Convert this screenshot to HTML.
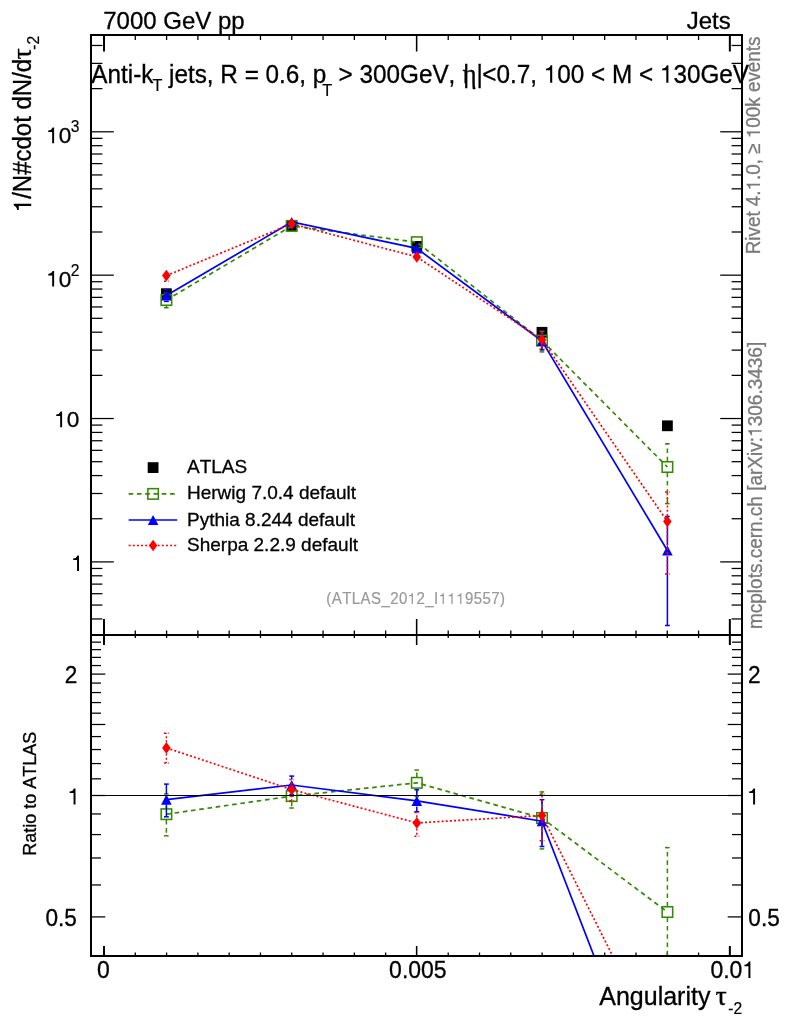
<!DOCTYPE html>
<html><head><meta charset="utf-8"><title>plot</title>
<style>
html,body{margin:0;padding:0;background:#fff;}
svg{display:block;will-change:transform;}
text{font-family:"Liberation Sans",sans-serif;font-kerning:none;}
</style></head>
<body>
<svg width="786" height="1024" viewBox="0 0 786 1024">
<defs>
<clipPath id="cu"><rect x="91.0" y="35.0" width="651.0" height="600.0"/></clipPath>
<clipPath id="cr"><rect x="91.0" y="635.0" width="651.0" height="321.0"/></clipPath>
</defs>
<rect width="786" height="1024" fill="#fff"/>
<line x1="91.00" y1="618.95" x2="102.40" y2="618.95" stroke="#000" stroke-width="1.25" />
<line x1="742.00" y1="618.95" x2="731.60" y2="618.95" stroke="#000" stroke-width="1.25" />
<line x1="91.00" y1="605.06" x2="102.40" y2="605.06" stroke="#000" stroke-width="1.25" />
<line x1="742.00" y1="605.06" x2="731.60" y2="605.06" stroke="#000" stroke-width="1.25" />
<line x1="91.00" y1="593.71" x2="102.40" y2="593.71" stroke="#000" stroke-width="1.25" />
<line x1="742.00" y1="593.71" x2="731.60" y2="593.71" stroke="#000" stroke-width="1.25" />
<line x1="91.00" y1="584.11" x2="102.40" y2="584.11" stroke="#000" stroke-width="1.25" />
<line x1="742.00" y1="584.11" x2="731.60" y2="584.11" stroke="#000" stroke-width="1.25" />
<line x1="91.00" y1="575.79" x2="102.40" y2="575.79" stroke="#000" stroke-width="1.25" />
<line x1="742.00" y1="575.79" x2="731.60" y2="575.79" stroke="#000" stroke-width="1.25" />
<line x1="91.00" y1="568.46" x2="102.40" y2="568.46" stroke="#000" stroke-width="1.25" />
<line x1="742.00" y1="568.46" x2="731.60" y2="568.46" stroke="#000" stroke-width="1.25" />
<line x1="91.00" y1="561.90" x2="113.80" y2="561.90" stroke="#000" stroke-width="1.25" />
<line x1="742.00" y1="561.90" x2="720.20" y2="561.90" stroke="#000" stroke-width="1.25" />
<line x1="91.00" y1="518.74" x2="102.40" y2="518.74" stroke="#000" stroke-width="1.25" />
<line x1="742.00" y1="518.74" x2="731.60" y2="518.74" stroke="#000" stroke-width="1.25" />
<line x1="91.00" y1="493.50" x2="102.40" y2="493.50" stroke="#000" stroke-width="1.25" />
<line x1="742.00" y1="493.50" x2="731.60" y2="493.50" stroke="#000" stroke-width="1.25" />
<line x1="91.00" y1="475.58" x2="102.40" y2="475.58" stroke="#000" stroke-width="1.25" />
<line x1="742.00" y1="475.58" x2="731.60" y2="475.58" stroke="#000" stroke-width="1.25" />
<line x1="91.00" y1="461.69" x2="102.40" y2="461.69" stroke="#000" stroke-width="1.25" />
<line x1="742.00" y1="461.69" x2="731.60" y2="461.69" stroke="#000" stroke-width="1.25" />
<line x1="91.00" y1="450.34" x2="102.40" y2="450.34" stroke="#000" stroke-width="1.25" />
<line x1="742.00" y1="450.34" x2="731.60" y2="450.34" stroke="#000" stroke-width="1.25" />
<line x1="91.00" y1="440.74" x2="102.40" y2="440.74" stroke="#000" stroke-width="1.25" />
<line x1="742.00" y1="440.74" x2="731.60" y2="440.74" stroke="#000" stroke-width="1.25" />
<line x1="91.00" y1="432.42" x2="102.40" y2="432.42" stroke="#000" stroke-width="1.25" />
<line x1="742.00" y1="432.42" x2="731.60" y2="432.42" stroke="#000" stroke-width="1.25" />
<line x1="91.00" y1="425.09" x2="102.40" y2="425.09" stroke="#000" stroke-width="1.25" />
<line x1="742.00" y1="425.09" x2="731.60" y2="425.09" stroke="#000" stroke-width="1.25" />
<line x1="91.00" y1="418.53" x2="113.80" y2="418.53" stroke="#000" stroke-width="1.25" />
<line x1="742.00" y1="418.53" x2="720.20" y2="418.53" stroke="#000" stroke-width="1.25" />
<line x1="91.00" y1="375.37" x2="102.40" y2="375.37" stroke="#000" stroke-width="1.25" />
<line x1="742.00" y1="375.37" x2="731.60" y2="375.37" stroke="#000" stroke-width="1.25" />
<line x1="91.00" y1="350.13" x2="102.40" y2="350.13" stroke="#000" stroke-width="1.25" />
<line x1="742.00" y1="350.13" x2="731.60" y2="350.13" stroke="#000" stroke-width="1.25" />
<line x1="91.00" y1="332.21" x2="102.40" y2="332.21" stroke="#000" stroke-width="1.25" />
<line x1="742.00" y1="332.21" x2="731.60" y2="332.21" stroke="#000" stroke-width="1.25" />
<line x1="91.00" y1="318.32" x2="102.40" y2="318.32" stroke="#000" stroke-width="1.25" />
<line x1="742.00" y1="318.32" x2="731.60" y2="318.32" stroke="#000" stroke-width="1.25" />
<line x1="91.00" y1="306.97" x2="102.40" y2="306.97" stroke="#000" stroke-width="1.25" />
<line x1="742.00" y1="306.97" x2="731.60" y2="306.97" stroke="#000" stroke-width="1.25" />
<line x1="91.00" y1="297.37" x2="102.40" y2="297.37" stroke="#000" stroke-width="1.25" />
<line x1="742.00" y1="297.37" x2="731.60" y2="297.37" stroke="#000" stroke-width="1.25" />
<line x1="91.00" y1="289.05" x2="102.40" y2="289.05" stroke="#000" stroke-width="1.25" />
<line x1="742.00" y1="289.05" x2="731.60" y2="289.05" stroke="#000" stroke-width="1.25" />
<line x1="91.00" y1="281.72" x2="102.40" y2="281.72" stroke="#000" stroke-width="1.25" />
<line x1="742.00" y1="281.72" x2="731.60" y2="281.72" stroke="#000" stroke-width="1.25" />
<line x1="91.00" y1="275.16" x2="113.80" y2="275.16" stroke="#000" stroke-width="1.25" />
<line x1="742.00" y1="275.16" x2="720.20" y2="275.16" stroke="#000" stroke-width="1.25" />
<line x1="91.00" y1="232.00" x2="102.40" y2="232.00" stroke="#000" stroke-width="1.25" />
<line x1="742.00" y1="232.00" x2="731.60" y2="232.00" stroke="#000" stroke-width="1.25" />
<line x1="91.00" y1="206.76" x2="102.40" y2="206.76" stroke="#000" stroke-width="1.25" />
<line x1="742.00" y1="206.76" x2="731.60" y2="206.76" stroke="#000" stroke-width="1.25" />
<line x1="91.00" y1="188.84" x2="102.40" y2="188.84" stroke="#000" stroke-width="1.25" />
<line x1="742.00" y1="188.84" x2="731.60" y2="188.84" stroke="#000" stroke-width="1.25" />
<line x1="91.00" y1="174.95" x2="102.40" y2="174.95" stroke="#000" stroke-width="1.25" />
<line x1="742.00" y1="174.95" x2="731.60" y2="174.95" stroke="#000" stroke-width="1.25" />
<line x1="91.00" y1="163.60" x2="102.40" y2="163.60" stroke="#000" stroke-width="1.25" />
<line x1="742.00" y1="163.60" x2="731.60" y2="163.60" stroke="#000" stroke-width="1.25" />
<line x1="91.00" y1="154.00" x2="102.40" y2="154.00" stroke="#000" stroke-width="1.25" />
<line x1="742.00" y1="154.00" x2="731.60" y2="154.00" stroke="#000" stroke-width="1.25" />
<line x1="91.00" y1="145.68" x2="102.40" y2="145.68" stroke="#000" stroke-width="1.25" />
<line x1="742.00" y1="145.68" x2="731.60" y2="145.68" stroke="#000" stroke-width="1.25" />
<line x1="91.00" y1="138.35" x2="102.40" y2="138.35" stroke="#000" stroke-width="1.25" />
<line x1="742.00" y1="138.35" x2="731.60" y2="138.35" stroke="#000" stroke-width="1.25" />
<line x1="91.00" y1="131.79" x2="113.80" y2="131.79" stroke="#000" stroke-width="1.25" />
<line x1="742.00" y1="131.79" x2="720.20" y2="131.79" stroke="#000" stroke-width="1.25" />
<line x1="91.00" y1="88.63" x2="102.40" y2="88.63" stroke="#000" stroke-width="1.25" />
<line x1="742.00" y1="88.63" x2="731.60" y2="88.63" stroke="#000" stroke-width="1.25" />
<line x1="91.00" y1="63.39" x2="102.40" y2="63.39" stroke="#000" stroke-width="1.25" />
<line x1="742.00" y1="63.39" x2="731.60" y2="63.39" stroke="#000" stroke-width="1.25" />
<line x1="91.00" y1="45.47" x2="102.40" y2="45.47" stroke="#000" stroke-width="1.25" />
<line x1="742.00" y1="45.47" x2="731.60" y2="45.47" stroke="#000" stroke-width="1.25" />
<line x1="91.00" y1="916.91" x2="105.30" y2="916.91" stroke="#000" stroke-width="1.25" />
<line x1="742.00" y1="916.91" x2="727.70" y2="916.91" stroke="#000" stroke-width="1.25" />
<line x1="91.00" y1="884.97" x2="101.00" y2="884.97" stroke="#000" stroke-width="1.25" />
<line x1="742.00" y1="884.97" x2="732.00" y2="884.97" stroke="#000" stroke-width="1.25" />
<line x1="91.00" y1="857.97" x2="101.00" y2="857.97" stroke="#000" stroke-width="1.25" />
<line x1="742.00" y1="857.97" x2="732.00" y2="857.97" stroke="#000" stroke-width="1.25" />
<line x1="91.00" y1="834.58" x2="101.00" y2="834.58" stroke="#000" stroke-width="1.25" />
<line x1="742.00" y1="834.58" x2="732.00" y2="834.58" stroke="#000" stroke-width="1.25" />
<line x1="91.00" y1="813.95" x2="101.00" y2="813.95" stroke="#000" stroke-width="1.25" />
<line x1="742.00" y1="813.95" x2="732.00" y2="813.95" stroke="#000" stroke-width="1.25" />
<line x1="91.00" y1="795.50" x2="105.30" y2="795.50" stroke="#000" stroke-width="1.25" />
<line x1="742.00" y1="795.50" x2="727.70" y2="795.50" stroke="#000" stroke-width="1.25" />
<line x1="91.00" y1="778.81" x2="101.00" y2="778.81" stroke="#000" stroke-width="1.25" />
<line x1="742.00" y1="778.81" x2="732.00" y2="778.81" stroke="#000" stroke-width="1.25" />
<line x1="91.00" y1="763.57" x2="101.00" y2="763.57" stroke="#000" stroke-width="1.25" />
<line x1="742.00" y1="763.57" x2="732.00" y2="763.57" stroke="#000" stroke-width="1.25" />
<line x1="91.00" y1="749.55" x2="101.00" y2="749.55" stroke="#000" stroke-width="1.25" />
<line x1="742.00" y1="749.55" x2="732.00" y2="749.55" stroke="#000" stroke-width="1.25" />
<line x1="91.00" y1="736.57" x2="101.00" y2="736.57" stroke="#000" stroke-width="1.25" />
<line x1="742.00" y1="736.57" x2="732.00" y2="736.57" stroke="#000" stroke-width="1.25" />
<line x1="91.00" y1="724.48" x2="105.30" y2="724.48" stroke="#000" stroke-width="1.25" />
<line x1="742.00" y1="724.48" x2="727.70" y2="724.48" stroke="#000" stroke-width="1.25" />
<line x1="91.00" y1="713.18" x2="101.00" y2="713.18" stroke="#000" stroke-width="1.25" />
<line x1="742.00" y1="713.18" x2="732.00" y2="713.18" stroke="#000" stroke-width="1.25" />
<line x1="91.00" y1="702.56" x2="101.00" y2="702.56" stroke="#000" stroke-width="1.25" />
<line x1="742.00" y1="702.56" x2="732.00" y2="702.56" stroke="#000" stroke-width="1.25" />
<line x1="91.00" y1="692.55" x2="101.00" y2="692.55" stroke="#000" stroke-width="1.25" />
<line x1="742.00" y1="692.55" x2="732.00" y2="692.55" stroke="#000" stroke-width="1.25" />
<line x1="91.00" y1="683.08" x2="101.00" y2="683.08" stroke="#000" stroke-width="1.25" />
<line x1="742.00" y1="683.08" x2="732.00" y2="683.08" stroke="#000" stroke-width="1.25" />
<line x1="91.00" y1="674.09" x2="105.30" y2="674.09" stroke="#000" stroke-width="1.25" />
<line x1="742.00" y1="674.09" x2="727.70" y2="674.09" stroke="#000" stroke-width="1.25" />
<line x1="91.00" y1="665.55" x2="101.00" y2="665.55" stroke="#000" stroke-width="1.25" />
<line x1="742.00" y1="665.55" x2="732.00" y2="665.55" stroke="#000" stroke-width="1.25" />
<line x1="91.00" y1="657.40" x2="101.00" y2="657.40" stroke="#000" stroke-width="1.25" />
<line x1="742.00" y1="657.40" x2="732.00" y2="657.40" stroke="#000" stroke-width="1.25" />
<line x1="91.00" y1="649.62" x2="101.00" y2="649.62" stroke="#000" stroke-width="1.25" />
<line x1="742.00" y1="649.62" x2="732.00" y2="649.62" stroke="#000" stroke-width="1.25" />
<line x1="91.00" y1="642.16" x2="101.00" y2="642.16" stroke="#000" stroke-width="1.25" />
<line x1="742.00" y1="642.16" x2="732.00" y2="642.16" stroke="#000" stroke-width="1.25" />
<line x1="104.00" y1="35.00" x2="104.00" y2="51.50" stroke="#000" stroke-width="2.0" />
<line x1="104.00" y1="635.00" x2="104.00" y2="619.00" stroke="#000" stroke-width="2.0" />
<line x1="104.00" y1="635.00" x2="104.00" y2="645.00" stroke="#000" stroke-width="2.0" />
<line x1="104.00" y1="956.00" x2="104.00" y2="946.00" stroke="#000" stroke-width="2.0" />
<line x1="135.29" y1="35.00" x2="135.29" y2="40.00" stroke="#000" stroke-width="1.3" />
<line x1="135.29" y1="635.00" x2="135.29" y2="630.50" stroke="#000" stroke-width="1.3" />
<line x1="135.29" y1="635.00" x2="135.29" y2="638.00" stroke="#000" stroke-width="1.3" />
<line x1="135.29" y1="956.00" x2="135.29" y2="952.50" stroke="#000" stroke-width="1.3" />
<line x1="166.59" y1="35.00" x2="166.59" y2="40.00" stroke="#000" stroke-width="1.3" />
<line x1="166.59" y1="635.00" x2="166.59" y2="630.50" stroke="#000" stroke-width="1.3" />
<line x1="166.59" y1="635.00" x2="166.59" y2="638.00" stroke="#000" stroke-width="1.3" />
<line x1="166.59" y1="956.00" x2="166.59" y2="952.50" stroke="#000" stroke-width="1.3" />
<line x1="197.88" y1="35.00" x2="197.88" y2="40.00" stroke="#000" stroke-width="1.3" />
<line x1="197.88" y1="635.00" x2="197.88" y2="630.50" stroke="#000" stroke-width="1.3" />
<line x1="197.88" y1="635.00" x2="197.88" y2="638.00" stroke="#000" stroke-width="1.3" />
<line x1="197.88" y1="956.00" x2="197.88" y2="952.50" stroke="#000" stroke-width="1.3" />
<line x1="229.17" y1="35.00" x2="229.17" y2="40.00" stroke="#000" stroke-width="1.3" />
<line x1="229.17" y1="635.00" x2="229.17" y2="630.50" stroke="#000" stroke-width="1.3" />
<line x1="229.17" y1="635.00" x2="229.17" y2="638.00" stroke="#000" stroke-width="1.3" />
<line x1="229.17" y1="956.00" x2="229.17" y2="952.50" stroke="#000" stroke-width="1.3" />
<line x1="260.46" y1="35.00" x2="260.46" y2="40.00" stroke="#000" stroke-width="1.3" />
<line x1="260.46" y1="635.00" x2="260.46" y2="630.50" stroke="#000" stroke-width="1.3" />
<line x1="260.46" y1="635.00" x2="260.46" y2="638.00" stroke="#000" stroke-width="1.3" />
<line x1="260.46" y1="956.00" x2="260.46" y2="952.50" stroke="#000" stroke-width="1.3" />
<line x1="291.75" y1="35.00" x2="291.75" y2="40.00" stroke="#000" stroke-width="1.3" />
<line x1="291.75" y1="635.00" x2="291.75" y2="630.50" stroke="#000" stroke-width="1.3" />
<line x1="291.75" y1="635.00" x2="291.75" y2="638.00" stroke="#000" stroke-width="1.3" />
<line x1="291.75" y1="956.00" x2="291.75" y2="952.50" stroke="#000" stroke-width="1.3" />
<line x1="323.05" y1="35.00" x2="323.05" y2="40.00" stroke="#000" stroke-width="1.3" />
<line x1="323.05" y1="635.00" x2="323.05" y2="630.50" stroke="#000" stroke-width="1.3" />
<line x1="323.05" y1="635.00" x2="323.05" y2="638.00" stroke="#000" stroke-width="1.3" />
<line x1="323.05" y1="956.00" x2="323.05" y2="952.50" stroke="#000" stroke-width="1.3" />
<line x1="354.34" y1="35.00" x2="354.34" y2="40.00" stroke="#000" stroke-width="1.3" />
<line x1="354.34" y1="635.00" x2="354.34" y2="630.50" stroke="#000" stroke-width="1.3" />
<line x1="354.34" y1="635.00" x2="354.34" y2="638.00" stroke="#000" stroke-width="1.3" />
<line x1="354.34" y1="956.00" x2="354.34" y2="952.50" stroke="#000" stroke-width="1.3" />
<line x1="385.63" y1="35.00" x2="385.63" y2="40.00" stroke="#000" stroke-width="1.3" />
<line x1="385.63" y1="635.00" x2="385.63" y2="630.50" stroke="#000" stroke-width="1.3" />
<line x1="385.63" y1="635.00" x2="385.63" y2="638.00" stroke="#000" stroke-width="1.3" />
<line x1="385.63" y1="956.00" x2="385.63" y2="952.50" stroke="#000" stroke-width="1.3" />
<line x1="416.65" y1="35.00" x2="416.65" y2="51.50" stroke="#000" stroke-width="1.55" />
<line x1="416.65" y1="635.00" x2="416.65" y2="619.00" stroke="#000" stroke-width="1.55" />
<line x1="416.65" y1="635.00" x2="416.65" y2="645.00" stroke="#000" stroke-width="1.55" />
<line x1="416.65" y1="956.00" x2="416.65" y2="946.00" stroke="#000" stroke-width="1.55" />
<line x1="448.22" y1="35.00" x2="448.22" y2="40.00" stroke="#000" stroke-width="1.3" />
<line x1="448.22" y1="635.00" x2="448.22" y2="630.50" stroke="#000" stroke-width="1.3" />
<line x1="448.22" y1="635.00" x2="448.22" y2="638.00" stroke="#000" stroke-width="1.3" />
<line x1="448.22" y1="956.00" x2="448.22" y2="952.50" stroke="#000" stroke-width="1.3" />
<line x1="479.51" y1="35.00" x2="479.51" y2="40.00" stroke="#000" stroke-width="1.3" />
<line x1="479.51" y1="635.00" x2="479.51" y2="630.50" stroke="#000" stroke-width="1.3" />
<line x1="479.51" y1="635.00" x2="479.51" y2="638.00" stroke="#000" stroke-width="1.3" />
<line x1="479.51" y1="956.00" x2="479.51" y2="952.50" stroke="#000" stroke-width="1.3" />
<line x1="510.80" y1="35.00" x2="510.80" y2="40.00" stroke="#000" stroke-width="1.3" />
<line x1="510.80" y1="635.00" x2="510.80" y2="630.50" stroke="#000" stroke-width="1.3" />
<line x1="510.80" y1="635.00" x2="510.80" y2="638.00" stroke="#000" stroke-width="1.3" />
<line x1="510.80" y1="956.00" x2="510.80" y2="952.50" stroke="#000" stroke-width="1.3" />
<line x1="542.10" y1="35.00" x2="542.10" y2="40.00" stroke="#000" stroke-width="1.3" />
<line x1="542.10" y1="635.00" x2="542.10" y2="630.50" stroke="#000" stroke-width="1.3" />
<line x1="542.10" y1="635.00" x2="542.10" y2="638.00" stroke="#000" stroke-width="1.3" />
<line x1="542.10" y1="956.00" x2="542.10" y2="952.50" stroke="#000" stroke-width="1.3" />
<line x1="573.39" y1="35.00" x2="573.39" y2="40.00" stroke="#000" stroke-width="1.3" />
<line x1="573.39" y1="635.00" x2="573.39" y2="630.50" stroke="#000" stroke-width="1.3" />
<line x1="573.39" y1="635.00" x2="573.39" y2="638.00" stroke="#000" stroke-width="1.3" />
<line x1="573.39" y1="956.00" x2="573.39" y2="952.50" stroke="#000" stroke-width="1.3" />
<line x1="604.68" y1="35.00" x2="604.68" y2="40.00" stroke="#000" stroke-width="1.3" />
<line x1="604.68" y1="635.00" x2="604.68" y2="630.50" stroke="#000" stroke-width="1.3" />
<line x1="604.68" y1="635.00" x2="604.68" y2="638.00" stroke="#000" stroke-width="1.3" />
<line x1="604.68" y1="956.00" x2="604.68" y2="952.50" stroke="#000" stroke-width="1.3" />
<line x1="635.97" y1="35.00" x2="635.97" y2="40.00" stroke="#000" stroke-width="1.3" />
<line x1="635.97" y1="635.00" x2="635.97" y2="630.50" stroke="#000" stroke-width="1.3" />
<line x1="635.97" y1="635.00" x2="635.97" y2="638.00" stroke="#000" stroke-width="1.3" />
<line x1="635.97" y1="956.00" x2="635.97" y2="952.50" stroke="#000" stroke-width="1.3" />
<line x1="667.27" y1="35.00" x2="667.27" y2="40.00" stroke="#000" stroke-width="1.3" />
<line x1="667.27" y1="635.00" x2="667.27" y2="630.50" stroke="#000" stroke-width="1.3" />
<line x1="667.27" y1="635.00" x2="667.27" y2="638.00" stroke="#000" stroke-width="1.3" />
<line x1="667.27" y1="956.00" x2="667.27" y2="952.50" stroke="#000" stroke-width="1.3" />
<line x1="698.56" y1="35.00" x2="698.56" y2="40.00" stroke="#000" stroke-width="1.3" />
<line x1="698.56" y1="635.00" x2="698.56" y2="630.50" stroke="#000" stroke-width="1.3" />
<line x1="698.56" y1="635.00" x2="698.56" y2="638.00" stroke="#000" stroke-width="1.3" />
<line x1="698.56" y1="956.00" x2="698.56" y2="952.50" stroke="#000" stroke-width="1.3" />
<line x1="729.85" y1="35.00" x2="729.85" y2="51.50" stroke="#000" stroke-width="2.0" />
<line x1="729.85" y1="635.00" x2="729.85" y2="619.00" stroke="#000" stroke-width="2.0" />
<line x1="729.85" y1="635.00" x2="729.85" y2="645.00" stroke="#000" stroke-width="2.0" />
<line x1="729.85" y1="956.00" x2="729.85" y2="946.00" stroke="#000" stroke-width="2.0" />
<g clip-path="url(#cu)">
<rect x="161.00" y="288.30" width="10.8" height="10.8" fill="#000"/>
<rect x="286.30" y="220.30" width="10.8" height="10.8" fill="#000"/>
<rect x="411.40" y="241.00" width="10.8" height="10.8" fill="#000"/>
<rect x="536.60" y="326.90" width="10.8" height="10.8" fill="#000"/>
<rect x="662.00" y="420.40" width="10.8" height="10.8" fill="#000"/>
<line x1="166.40" y1="294.40" x2="166.40" y2="293.20" stroke="#338a00" stroke-width="1.5" stroke-dasharray="4.6 3.7"/>
<line x1="164.00" y1="293.20" x2="168.80" y2="293.20" stroke="#338a00" stroke-width="1.5" stroke-dasharray="4.6 3.7"/>
<line x1="166.40" y1="305.60" x2="166.40" y2="307.70" stroke="#338a00" stroke-width="1.5" stroke-dasharray="4.6 3.7"/>
<line x1="164.00" y1="307.70" x2="168.80" y2="307.70" stroke="#338a00" stroke-width="1.5" stroke-dasharray="4.6 3.7"/>
<line x1="542.00" y1="335.00" x2="542.00" y2="331.30" stroke="#338a00" stroke-width="1.5" stroke-dasharray="4.6 3.7"/>
<line x1="539.60" y1="331.30" x2="544.40" y2="331.30" stroke="#338a00" stroke-width="1.5" stroke-dasharray="4.6 3.7"/>
<line x1="542.00" y1="346.20" x2="542.00" y2="351.90" stroke="#338a00" stroke-width="1.5" stroke-dasharray="4.6 3.7"/>
<line x1="539.60" y1="351.90" x2="544.40" y2="351.90" stroke="#338a00" stroke-width="1.5" stroke-dasharray="4.6 3.7"/>
<line x1="667.40" y1="461.40" x2="667.40" y2="443.80" stroke="#338a00" stroke-width="1.5" stroke-dasharray="4.6 3.7"/>
<line x1="665.00" y1="443.80" x2="669.80" y2="443.80" stroke="#338a00" stroke-width="1.5" stroke-dasharray="4.6 3.7"/>
<line x1="667.40" y1="472.60" x2="667.40" y2="503.60" stroke="#338a00" stroke-width="1.5" stroke-dasharray="4.6 3.7"/>
<line x1="665.00" y1="503.60" x2="669.80" y2="503.60" stroke="#338a00" stroke-width="1.5" stroke-dasharray="4.6 3.7"/>
<polyline points="166.40,300.00 291.70,225.90 416.80,242.20 542.00,340.60 667.40,467.00" fill="none" stroke="#338a00" stroke-width="1.7" stroke-dasharray="4.6 3.7"/>
<rect x="161.15" y="294.75" width="10.5" height="10.5" fill="none" stroke="#338a00" stroke-width="1.55"/>
<rect x="286.45" y="220.65" width="10.5" height="10.5" fill="none" stroke="#338a00" stroke-width="1.55"/>
<rect x="411.55" y="236.95" width="10.5" height="10.5" fill="none" stroke="#338a00" stroke-width="1.55"/>
<rect x="536.75" y="335.35" width="10.5" height="10.5" fill="none" stroke="#338a00" stroke-width="1.55"/>
<rect x="662.15" y="461.75" width="10.5" height="10.5" fill="none" stroke="#338a00" stroke-width="1.55"/>
<line x1="166.40" y1="289.90" x2="166.40" y2="289.50" stroke="#0000ff" stroke-width="1.5" />
<line x1="164.00" y1="289.50" x2="168.80" y2="289.50" stroke="#0000ff" stroke-width="1.5" />
<line x1="166.40" y1="301.10" x2="166.40" y2="301.40" stroke="#0000ff" stroke-width="1.5" />
<line x1="164.00" y1="301.40" x2="168.80" y2="301.40" stroke="#0000ff" stroke-width="1.5" />
<line x1="542.00" y1="335.40" x2="542.00" y2="333.10" stroke="#0000ff" stroke-width="1.5" />
<line x1="539.60" y1="333.10" x2="544.40" y2="333.10" stroke="#0000ff" stroke-width="1.5" />
<line x1="542.00" y1="346.60" x2="542.00" y2="349.90" stroke="#0000ff" stroke-width="1.5" />
<line x1="539.60" y1="349.90" x2="544.40" y2="349.90" stroke="#0000ff" stroke-width="1.5" />
<line x1="667.40" y1="544.90" x2="667.40" y2="516.50" stroke="#0000ff" stroke-width="1.5" />
<line x1="665.00" y1="516.50" x2="669.80" y2="516.50" stroke="#0000ff" stroke-width="1.5" />
<line x1="667.40" y1="556.10" x2="667.40" y2="625.50" stroke="#0000ff" stroke-width="1.5" />
<line x1="665.00" y1="625.50" x2="669.80" y2="625.50" stroke="#0000ff" stroke-width="1.5" />
<polyline points="166.40,295.50 291.70,222.00 416.80,248.40 542.00,341.00 667.40,550.50" fill="none" stroke="#0000ff" stroke-width="1.7" />
<polygon points="166.40,290.40 171.70,300.60 161.10,300.60" fill="#0000ff"/>
<polygon points="291.70,216.90 297.00,227.10 286.40,227.10" fill="#0000ff"/>
<polygon points="416.80,243.30 422.10,253.50 411.50,253.50" fill="#0000ff"/>
<polygon points="542.00,335.90 547.30,346.10 536.70,346.10" fill="#0000ff"/>
<polygon points="667.40,545.40 672.70,555.60 662.10,555.60" fill="#0000ff"/>
<line x1="166.40" y1="281.20" x2="166.40" y2="281.30" stroke="#ff0000" stroke-width="1.5" stroke-dasharray="2 2.15"/>
<line x1="164.00" y1="281.30" x2="168.80" y2="281.30" stroke="#ff0000" stroke-width="1.5" stroke-dasharray="2 2.15"/>
<line x1="542.00" y1="334.10" x2="542.00" y2="331.50" stroke="#ff0000" stroke-width="1.5" stroke-dasharray="2 2.15"/>
<line x1="539.60" y1="331.50" x2="544.40" y2="331.50" stroke="#ff0000" stroke-width="1.5" stroke-dasharray="2 2.15"/>
<line x1="542.00" y1="345.30" x2="542.00" y2="348.90" stroke="#ff0000" stroke-width="1.5" stroke-dasharray="2 2.15"/>
<line x1="539.60" y1="348.90" x2="544.40" y2="348.90" stroke="#ff0000" stroke-width="1.5" stroke-dasharray="2 2.15"/>
<line x1="667.40" y1="515.90" x2="667.40" y2="492.10" stroke="#ff0000" stroke-width="1.5" stroke-dasharray="2 2.15"/>
<line x1="665.00" y1="492.10" x2="669.80" y2="492.10" stroke="#ff0000" stroke-width="1.5" stroke-dasharray="2 2.15"/>
<line x1="667.40" y1="527.10" x2="667.40" y2="573.90" stroke="#ff0000" stroke-width="1.5" stroke-dasharray="2 2.15"/>
<line x1="665.00" y1="573.90" x2="669.80" y2="573.90" stroke="#ff0000" stroke-width="1.5" stroke-dasharray="2 2.15"/>
<polyline points="166.40,275.60 291.70,223.80 416.80,256.90 542.00,339.70 667.40,521.50" fill="none" stroke="#ff0000" stroke-width="1.7" stroke-dasharray="2 2.15"/>
<polygon points="166.40,269.80 170.70,275.60 166.40,281.40 162.10,275.60" fill="#ff0000"/>
<polygon points="291.70,218.00 296.00,223.80 291.70,229.60 287.40,223.80" fill="#ff0000"/>
<polygon points="416.80,251.10 421.10,256.90 416.80,262.70 412.50,256.90" fill="#ff0000"/>
<polygon points="542.00,333.90 546.30,339.70 542.00,345.50 537.70,339.70" fill="#ff0000"/>
<polygon points="667.40,515.70 671.70,521.50 667.40,527.30 663.10,521.50" fill="#ff0000"/>
</g>
<g clip-path="url(#cr)">
<line x1="166.40" y1="808.60" x2="166.40" y2="794.00" stroke="#338a00" stroke-width="1.5" stroke-dasharray="4.6 3.7"/>
<line x1="164.00" y1="794.00" x2="168.80" y2="794.00" stroke="#338a00" stroke-width="1.5" stroke-dasharray="4.6 3.7"/>
<line x1="166.40" y1="819.80" x2="166.40" y2="835.80" stroke="#338a00" stroke-width="1.5" stroke-dasharray="4.6 3.7"/>
<line x1="164.00" y1="835.80" x2="168.80" y2="835.80" stroke="#338a00" stroke-width="1.5" stroke-dasharray="4.6 3.7"/>
<line x1="291.70" y1="790.50" x2="291.70" y2="785.30" stroke="#338a00" stroke-width="1.5" stroke-dasharray="4.6 3.7"/>
<line x1="289.30" y1="785.30" x2="294.10" y2="785.30" stroke="#338a00" stroke-width="1.5" stroke-dasharray="4.6 3.7"/>
<line x1="291.70" y1="801.70" x2="291.70" y2="808.00" stroke="#338a00" stroke-width="1.5" stroke-dasharray="4.6 3.7"/>
<line x1="289.30" y1="808.00" x2="294.10" y2="808.00" stroke="#338a00" stroke-width="1.5" stroke-dasharray="4.6 3.7"/>
<line x1="416.80" y1="777.20" x2="416.80" y2="770.10" stroke="#338a00" stroke-width="1.5" stroke-dasharray="4.6 3.7"/>
<line x1="414.40" y1="770.10" x2="419.20" y2="770.10" stroke="#338a00" stroke-width="1.5" stroke-dasharray="4.6 3.7"/>
<line x1="416.80" y1="788.40" x2="416.80" y2="796.50" stroke="#338a00" stroke-width="1.5" stroke-dasharray="4.6 3.7"/>
<line x1="414.40" y1="796.50" x2="419.20" y2="796.50" stroke="#338a00" stroke-width="1.5" stroke-dasharray="4.6 3.7"/>
<line x1="542.00" y1="812.40" x2="542.00" y2="791.90" stroke="#338a00" stroke-width="1.5" stroke-dasharray="4.6 3.7"/>
<line x1="539.60" y1="791.90" x2="544.40" y2="791.90" stroke="#338a00" stroke-width="1.5" stroke-dasharray="4.6 3.7"/>
<line x1="542.00" y1="823.60" x2="542.00" y2="848.90" stroke="#338a00" stroke-width="1.5" stroke-dasharray="4.6 3.7"/>
<line x1="539.60" y1="848.90" x2="544.40" y2="848.90" stroke="#338a00" stroke-width="1.5" stroke-dasharray="4.6 3.7"/>
<line x1="667.40" y1="906.40" x2="667.40" y2="847.60" stroke="#338a00" stroke-width="1.5" stroke-dasharray="4.6 3.7"/>
<line x1="665.00" y1="847.60" x2="669.80" y2="847.60" stroke="#338a00" stroke-width="1.5" stroke-dasharray="4.6 3.7"/>
<line x1="667.40" y1="917.60" x2="667.40" y2="1015.00" stroke="#338a00" stroke-width="1.5" stroke-dasharray="4.6 3.7"/>
<line x1="665.00" y1="1015.00" x2="669.80" y2="1015.00" stroke="#338a00" stroke-width="1.5" stroke-dasharray="4.6 3.7"/>
<polyline points="166.40,814.20 291.70,796.10 416.80,782.80 542.00,818.00 667.40,912.00" fill="none" stroke="#338a00" stroke-width="1.7" stroke-dasharray="4.6 3.7"/>
<rect x="161.15" y="808.95" width="10.5" height="10.5" fill="none" stroke="#338a00" stroke-width="1.55"/>
<rect x="286.45" y="790.85" width="10.5" height="10.5" fill="none" stroke="#338a00" stroke-width="1.55"/>
<rect x="411.55" y="777.55" width="10.5" height="10.5" fill="none" stroke="#338a00" stroke-width="1.55"/>
<rect x="536.75" y="812.75" width="10.5" height="10.5" fill="none" stroke="#338a00" stroke-width="1.55"/>
<rect x="662.15" y="906.75" width="10.5" height="10.5" fill="none" stroke="#338a00" stroke-width="1.55"/>
<line x1="166.40" y1="794.10" x2="166.40" y2="784.10" stroke="#0000ff" stroke-width="1.5" />
<line x1="164.00" y1="784.10" x2="168.80" y2="784.10" stroke="#0000ff" stroke-width="1.5" />
<line x1="166.40" y1="805.30" x2="166.40" y2="816.80" stroke="#0000ff" stroke-width="1.5" />
<line x1="164.00" y1="816.80" x2="168.80" y2="816.80" stroke="#0000ff" stroke-width="1.5" />
<line x1="291.70" y1="779.40" x2="291.70" y2="776.10" stroke="#0000ff" stroke-width="1.5" />
<line x1="289.30" y1="776.10" x2="294.10" y2="776.10" stroke="#0000ff" stroke-width="1.5" />
<line x1="291.70" y1="790.60" x2="291.70" y2="794.60" stroke="#0000ff" stroke-width="1.5" />
<line x1="289.30" y1="794.60" x2="294.10" y2="794.60" stroke="#0000ff" stroke-width="1.5" />
<line x1="416.80" y1="795.20" x2="416.80" y2="789.80" stroke="#0000ff" stroke-width="1.5" />
<line x1="414.40" y1="789.80" x2="419.20" y2="789.80" stroke="#0000ff" stroke-width="1.5" />
<line x1="416.80" y1="806.40" x2="416.80" y2="811.70" stroke="#0000ff" stroke-width="1.5" />
<line x1="414.40" y1="811.70" x2="419.20" y2="811.70" stroke="#0000ff" stroke-width="1.5" />
<line x1="542.00" y1="815.60" x2="542.00" y2="799.70" stroke="#0000ff" stroke-width="1.5" />
<line x1="539.60" y1="799.70" x2="544.40" y2="799.70" stroke="#0000ff" stroke-width="1.5" />
<line x1="542.00" y1="826.80" x2="542.00" y2="846.50" stroke="#0000ff" stroke-width="1.5" />
<line x1="539.60" y1="846.50" x2="544.40" y2="846.50" stroke="#0000ff" stroke-width="1.5" />
<line x1="667.40" y1="1140.60" x2="667.40" y2="1050.00" stroke="#0000ff" stroke-width="1.5" />
<line x1="665.00" y1="1050.00" x2="669.80" y2="1050.00" stroke="#0000ff" stroke-width="1.5" />
<line x1="667.40" y1="1151.80" x2="667.40" y2="1300.00" stroke="#0000ff" stroke-width="1.5" />
<line x1="665.00" y1="1300.00" x2="669.80" y2="1300.00" stroke="#0000ff" stroke-width="1.5" />
<polyline points="166.40,799.70 291.70,785.00 416.80,800.80 542.00,821.20 667.40,1146.20" fill="none" stroke="#0000ff" stroke-width="1.7" />
<polygon points="166.40,794.60 171.70,804.80 161.10,804.80" fill="#0000ff"/>
<polygon points="291.70,779.90 297.00,790.10 286.40,790.10" fill="#0000ff"/>
<polygon points="416.80,795.70 422.10,805.90 411.50,805.90" fill="#0000ff"/>
<polygon points="542.00,816.10 547.30,826.30 536.70,826.30" fill="#0000ff"/>
<polygon points="667.40,1141.10 672.70,1151.30 662.10,1151.30" fill="#0000ff"/>
<line x1="166.40" y1="742.30" x2="166.40" y2="733.30" stroke="#ff0000" stroke-width="1.5" stroke-dasharray="2 2.15"/>
<line x1="164.00" y1="733.30" x2="168.80" y2="733.30" stroke="#ff0000" stroke-width="1.5" stroke-dasharray="2 2.15"/>
<line x1="166.40" y1="753.50" x2="166.40" y2="762.90" stroke="#ff0000" stroke-width="1.5" stroke-dasharray="2 2.15"/>
<line x1="164.00" y1="762.90" x2="168.80" y2="762.90" stroke="#ff0000" stroke-width="1.5" stroke-dasharray="2 2.15"/>
<line x1="291.70" y1="784.00" x2="291.70" y2="779.40" stroke="#ff0000" stroke-width="1.5" stroke-dasharray="2 2.15"/>
<line x1="289.30" y1="779.40" x2="294.10" y2="779.40" stroke="#ff0000" stroke-width="1.5" stroke-dasharray="2 2.15"/>
<line x1="291.70" y1="795.20" x2="291.70" y2="800.80" stroke="#ff0000" stroke-width="1.5" stroke-dasharray="2 2.15"/>
<line x1="289.30" y1="800.80" x2="294.10" y2="800.80" stroke="#ff0000" stroke-width="1.5" stroke-dasharray="2 2.15"/>
<line x1="416.80" y1="817.30" x2="416.80" y2="812.40" stroke="#ff0000" stroke-width="1.5" stroke-dasharray="2 2.15"/>
<line x1="414.40" y1="812.40" x2="419.20" y2="812.40" stroke="#ff0000" stroke-width="1.5" stroke-dasharray="2 2.15"/>
<line x1="416.80" y1="828.50" x2="416.80" y2="836.30" stroke="#ff0000" stroke-width="1.5" stroke-dasharray="2 2.15"/>
<line x1="414.40" y1="836.30" x2="419.20" y2="836.30" stroke="#ff0000" stroke-width="1.5" stroke-dasharray="2 2.15"/>
<line x1="542.00" y1="809.90" x2="542.00" y2="794.20" stroke="#ff0000" stroke-width="1.5" stroke-dasharray="2 2.15"/>
<line x1="539.60" y1="794.20" x2="544.40" y2="794.20" stroke="#ff0000" stroke-width="1.5" stroke-dasharray="2 2.15"/>
<line x1="542.00" y1="821.10" x2="542.00" y2="840.70" stroke="#ff0000" stroke-width="1.5" stroke-dasharray="2 2.15"/>
<line x1="539.60" y1="840.70" x2="544.40" y2="840.70" stroke="#ff0000" stroke-width="1.5" stroke-dasharray="2 2.15"/>
<line x1="667.40" y1="1059.10" x2="667.40" y2="1000.00" stroke="#ff0000" stroke-width="1.5" stroke-dasharray="2 2.15"/>
<line x1="665.00" y1="1000.00" x2="669.80" y2="1000.00" stroke="#ff0000" stroke-width="1.5" stroke-dasharray="2 2.15"/>
<line x1="667.40" y1="1070.30" x2="667.40" y2="1200.00" stroke="#ff0000" stroke-width="1.5" stroke-dasharray="2 2.15"/>
<line x1="665.00" y1="1200.00" x2="669.80" y2="1200.00" stroke="#ff0000" stroke-width="1.5" stroke-dasharray="2 2.15"/>
<polyline points="166.40,747.90 291.70,789.60 416.80,822.90 542.00,815.50 667.40,1064.70" fill="none" stroke="#ff0000" stroke-width="1.7" stroke-dasharray="2 2.15"/>
<polygon points="166.40,742.10 170.70,747.90 166.40,753.70 162.10,747.90" fill="#ff0000"/>
<polygon points="291.70,783.80 296.00,789.60 291.70,795.40 287.40,789.60" fill="#ff0000"/>
<polygon points="416.80,817.10 421.10,822.90 416.80,828.70 412.50,822.90" fill="#ff0000"/>
<polygon points="542.00,809.70 546.30,815.50 542.00,821.30 537.70,815.50" fill="#ff0000"/>
<polygon points="667.40,1058.90 671.70,1064.70 667.40,1070.50 663.10,1064.70" fill="#ff0000"/>
<line x1="91.00" y1="795.50" x2="742.00" y2="795.50" stroke="#000" stroke-width="1.2" />
</g>
<rect x="91.0" y="35.0" width="651.0" height="921.0" fill="none" stroke="#000" stroke-width="2"/>
<line x1="91.00" y1="635.00" x2="742.00" y2="635.00" stroke="#000" stroke-width="2" />
<rect x="147.70" y="462.20" width="10.8" height="10.8" fill="#000"/>
<line x1="128.60" y1="493.90" x2="177.20" y2="493.90" stroke="#338a00" stroke-width="1.7" stroke-dasharray="4.6 3.7"/>
<rect x="147.85" y="488.65" width="10.5" height="10.5" fill="none" stroke="#338a00" stroke-width="1.55"/>
<line x1="128.60" y1="520.00" x2="177.20" y2="520.00" stroke="#0000ff" stroke-width="1.7" />
<polygon points="153.10,514.90 158.40,525.10 147.80,525.10" fill="#0000ff"/>
<line x1="128.60" y1="545.50" x2="177.20" y2="545.50" stroke="#ff0000" stroke-width="1.7" stroke-dasharray="2 2.15"/>
<polygon points="153.10,539.70 157.40,545.50 153.10,551.30 148.80,545.50" fill="#ff0000"/>
<text transform="translate(187.00,472.80)" font-size="19" text-anchor="start" fill="#000" stroke="#000" stroke-width="0.3" >ATLAS</text>
<text transform="translate(187.00,499.40)" font-size="19" text-anchor="start" fill="#000" stroke="#000" stroke-width="0.3" >Herwig 7.0.4 default</text>
<text transform="translate(187.00,525.50)" font-size="19" text-anchor="start" fill="#000" stroke="#000" stroke-width="0.3" >Pythia 8.244 default</text>
<text transform="translate(187.00,551.00)" font-size="19" text-anchor="start" fill="#000" stroke="#000" stroke-width="0.3" >Sherpa 2.2.9 default</text>
<text transform="translate(103.20,28.80) scale(1,1.02)" font-size="24" text-anchor="start" fill="#000" stroke="#000" stroke-width="0.3" >7000 GeV pp</text>
<text transform="translate(730.70,28.80) scale(1,1.02)" font-size="24" text-anchor="end" fill="#000" stroke="#000" stroke-width="0.3" >Jets</text>
<text transform="translate(91.30,82.80) scale(1,1.05)" font-size="24.3" text-anchor="start" fill="#000" stroke="#000" stroke-width="0.3" >Anti-k</text>
<text transform="translate(152.60,90.70) scale(1,1.05)" font-size="16.2" text-anchor="start" fill="#000" stroke="#000" stroke-width="0.2" >T</text>
<text transform="translate(162.30,82.80) scale(1,1.05)" font-size="24.3" text-anchor="start" fill="#000" stroke="#000" stroke-width="0.3" xml:space="preserve"> jets, R = 0.6, p</text>
<text transform="translate(322.20,95.60) scale(1,1.05)" font-size="16.2" text-anchor="start" fill="#000" stroke="#000" stroke-width="0.2" >T</text>
<text transform="translate(331.80,82.80) scale(1,1.05)" font-size="24.3" text-anchor="start" fill="#000" stroke="#000" stroke-width="0.3" xml:space="preserve"> &gt; 300GeV,</text>
<text transform="translate(462.90,82.80) scale(1,1.05)" font-size="24.3" text-anchor="start" fill="#000" stroke="#000" stroke-width="0.3" >|</text>
<text transform="translate(462.50,82.80)" font-size="27" text-anchor="start" fill="#000" stroke="#000" stroke-width="0.3" style="font-family:'Liberation Serif',serif">η</text>
<text transform="translate(476.50,82.80) scale(1,1.05)" font-size="24.3" text-anchor="start" fill="#000" stroke="#000" stroke-width="0.3" >|</text>
<g transform="translate(482.30,82.80)">
<text transform="translate(0.00,0) scale(1,1.05)" font-size="24.3" fill="#000" stroke="#000" stroke-width="0.3" xml:space="preserve">&lt;0.7, </text>
<path transform="translate(61.47,0) scale(0.02430,-0.02488)" d="M348,0 L262,0 L262,500 L88,500 L88,566 Q236,578 284,703 L348,703 Z" fill="#000"/>
<text transform="translate(74.98,0) scale(1,1.05)" font-size="24.3" fill="#000" stroke="#000" stroke-width="0.3" xml:space="preserve">00 &lt; M &lt; </text>
<path transform="translate(177.64,0) scale(0.02430,-0.02488)" d="M348,0 L262,0 L262,500 L88,500 L88,566 Q236,578 284,703 L348,703 Z" fill="#000"/>
<text transform="translate(191.15,0) scale(1,1.05)" font-size="24.3" fill="#000" stroke="#000" stroke-width="0.3" xml:space="preserve">30GeV</text>
</g>
<g transform="translate(31.20,212.20) rotate(-90)">
<path transform="translate(0.00,0) scale(0.02400,-0.02480)" d="M348,0 L262,0 L262,500 L88,500 L88,566 Q236,578 284,703 L348,703 Z" fill="#000"/>
<text transform="translate(13.34,0) scale(1,1.06)" font-size="24" fill="#000" stroke="#000" stroke-width="0.3" xml:space="preserve">/N#cdot dN/d</text>
</g>
<text transform="translate(31.20,59.50) rotate(-90)" font-size="28" text-anchor="start" fill="#000" stroke="#000" stroke-width="0.3" style="font-family:'Liberation Serif',serif">τ</text>
<text transform="translate(39.30,49.80) rotate(-90) scale(1,1.06)" font-size="15.6" text-anchor="start" fill="#000" stroke="#000" stroke-width="0.2" >-2</text>
<text transform="translate(36.00,855.80) rotate(-90) scale(1,1.04)" font-size="18" text-anchor="start" fill="#000" stroke="#000" stroke-width="0.3" >Ratio to ATLAS</text>
<g transform="translate(760.00,254.30) rotate(-90)">
<text transform="translate(0.00,0) scale(1,1.04)" font-size="18.85" fill="#7a7a7a" stroke="#7a7a7a" stroke-width="0.3" xml:space="preserve">Rivet 4.</text>
<path transform="translate(63.90,0) scale(0.01885,-0.01911)" d="M348,0 L262,0 L262,500 L88,500 L88,566 Q236,578 284,703 L348,703 Z" fill="#7a7a7a"/>
<text transform="translate(74.38,0) scale(1,1.04)" font-size="18.85" fill="#7a7a7a" stroke="#7a7a7a" stroke-width="0.3" xml:space="preserve">.0, ≥ </text>
<path transform="translate(116.16,0) scale(0.01885,-0.01911)" d="M348,0 L262,0 L262,500 L88,500 L88,566 Q236,578 284,703 L348,703 Z" fill="#7a7a7a"/>
<text transform="translate(126.64,0) scale(1,1.04)" font-size="18.85" fill="#7a7a7a" stroke="#7a7a7a" stroke-width="0.3" xml:space="preserve">00k events</text>
</g>
<g transform="translate(761.60,629.00) rotate(-90)">
<text transform="translate(0.00,0) scale(1,1.03)" font-size="19" fill="#7a7a7a" stroke="#7a7a7a" stroke-width="0.3" xml:space="preserve">mcplots.cern.ch [arXiv:</text>
<path transform="translate(192.17,0) scale(0.01900,-0.01908)" d="M348,0 L262,0 L262,500 L88,500 L88,566 Q236,578 284,703 L348,703 Z" fill="#7a7a7a"/>
<text transform="translate(202.73,0) scale(1,1.03)" font-size="19" fill="#7a7a7a" stroke="#7a7a7a" stroke-width="0.3" xml:space="preserve">306.3436]</text>
</g>
<g transform="translate(415.70,603.90)">
<text transform="translate(-89.36,0) scale(1,1.04)" font-size="15" fill="#9a9a9a" stroke="#9a9a9a" stroke-width="0.2" xml:space="preserve" letter-spacing="0.43">(ATLAS_20</text>
<path transform="translate(-7.95,0) scale(0.01500,-0.01521)" d="M348,0 L262,0 L262,500 L88,500 L88,566 Q236,578 284,703 L348,703 Z" fill="#9a9a9a"/>
<text transform="translate(0.82,0) scale(1,1.04)" font-size="15" fill="#9a9a9a" stroke="#9a9a9a" stroke-width="0.2" xml:space="preserve" letter-spacing="0.43">2_I</text>
<path transform="translate(22.96,0) scale(0.01500,-0.01521)" d="M348,0 L262,0 L262,500 L88,500 L88,566 Q236,578 284,703 L348,703 Z" fill="#9a9a9a"/>
<path transform="translate(31.73,0) scale(0.01500,-0.01521)" d="M348,0 L262,0 L262,500 L88,500 L88,566 Q236,578 284,703 L348,703 Z" fill="#9a9a9a"/>
<path transform="translate(40.50,0) scale(0.01500,-0.01521)" d="M348,0 L262,0 L262,500 L88,500 L88,566 Q236,578 284,703 L348,703 Z" fill="#9a9a9a"/>
<text transform="translate(49.27,0) scale(1,1.04)" font-size="15" fill="#9a9a9a" stroke="#9a9a9a" stroke-width="0.2" xml:space="preserve" letter-spacing="0.43">9557)</text>
</g>
<text transform="translate(97.00,978.00) scale(1,1.05)" font-size="23" text-anchor="start" fill="#000" stroke="#000" stroke-width="0.3" >0</text>
<text transform="translate(389.11,978.00) scale(1,1.05)" font-size="23" text-anchor="start" fill="#000" stroke="#000" stroke-width="0.3" >0.005</text>
<text transform="translate(710.42,978.00) scale(1,1.05)" font-size="23" text-anchor="start" fill="#000" stroke="#000" stroke-width="0.3" >0.0</text>
<path transform="translate(742.40,978.00) scale(0.02300,-0.02355)" d="M348,0 L262,0 L262,500 L88,500 L88,566 Q236,578 284,703 L348,703 Z" fill="#000"/>
<path transform="translate(46.25,143.19) scale(0.02260,-0.02226)" d="M348,0 L262,0 L262,500 L88,500 L88,566 Q236,578 284,703 L348,703 Z" fill="#000"/>
<text transform="translate(58.81,143.19) scale(1,1.01)" font-size="22.6" text-anchor="start" fill="#000" stroke="#000" stroke-width="0.3" >0</text>
<text transform="translate(70.71,132.19) scale(1,1.06)" font-size="15.6" text-anchor="start" fill="#000" stroke="#000" stroke-width="0.2" >3</text>
<path transform="translate(46.25,286.56) scale(0.02260,-0.02226)" d="M348,0 L262,0 L262,500 L88,500 L88,566 Q236,578 284,703 L348,703 Z" fill="#000"/>
<text transform="translate(58.81,286.56) scale(1,1.01)" font-size="22.6" text-anchor="start" fill="#000" stroke="#000" stroke-width="0.3" >0</text>
<text transform="translate(70.81,275.56) scale(1,1.06)" font-size="15.6" text-anchor="start" fill="#000" stroke="#000" stroke-width="0.2" >2</text>
<path transform="translate(54.25,427.13) scale(0.02260,-0.02226)" d="M348,0 L262,0 L262,500 L88,500 L88,566 Q236,578 284,703 L348,703 Z" fill="#000"/>
<text transform="translate(66.81,427.13) scale(1,1.01)" font-size="22.6" text-anchor="start" fill="#000" stroke="#000" stroke-width="0.3" >0</text>
<path transform="translate(71.14,571.10) scale(0.02260,-0.02226)" d="M348,0 L262,0 L262,500 L88,500 L88,566 Q236,578 284,703 L348,703 Z" fill="#000"/>
<text transform="translate(64.77,683.09) scale(1,1.04)" font-size="22.6" text-anchor="start" fill="#000" stroke="#000" stroke-width="0.3" >2</text>
<text transform="translate(748.06,683.09) scale(1,1.04)" font-size="22.6" text-anchor="start" fill="#000" stroke="#000" stroke-width="0.3" >2</text>
<path transform="translate(67.64,804.50) scale(0.02260,-0.02292)" d="M348,0 L262,0 L262,500 L88,500 L88,566 Q236,578 284,703 L348,703 Z" fill="#000"/>
<path transform="translate(747.21,804.50) scale(0.02260,-0.02292)" d="M348,0 L262,0 L262,500 L88,500 L88,566 Q236,578 284,703 L348,703 Z" fill="#000"/>
<text transform="translate(45.43,925.91) scale(1,1.04)" font-size="22.6" text-anchor="start" fill="#000" stroke="#000" stroke-width="0.3" >0.5</text>
<text transform="translate(748.32,925.91) scale(1,1.04)" font-size="22.6" text-anchor="start" fill="#000" stroke="#000" stroke-width="0.3" >0.5</text>
<text transform="translate(599.30,1004.70) scale(1,1.06)" font-size="25" text-anchor="start" fill="#000" stroke="#000" stroke-width="0.3" >Angularity</text>
<text transform="translate(715.40,1004.60)" font-size="28" text-anchor="start" fill="#000" stroke="#000" stroke-width="0.3" style="font-family:'Liberation Serif',serif">τ</text>
<text transform="translate(728.30,1014.30) scale(1,1.06)" font-size="15.6" text-anchor="start" fill="#000" stroke="#000" stroke-width="0.2" >-2</text>
</svg>
</body></html>
